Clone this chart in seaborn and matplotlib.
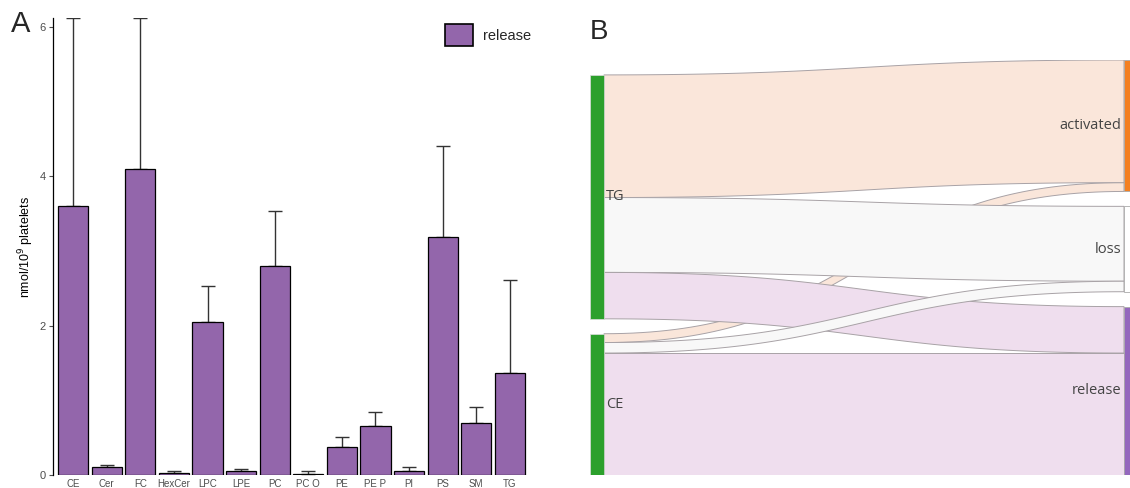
import numpy as np
import pandas as pd
import matplotlib.pyplot as plt
import seaborn as sns
from matplotlib.patches import Patch, Rectangle

# Estilo
sns.set_theme(style="ticks")
plt.rcParams['font.family'] = ['Liberation Sans', 'DejaVu Sans']

# Painel A: lipídios liberados (média e desvio)
lipidios = ['CE', 'Cer', 'FC', 'HexCer', 'LPC', 'LPE', 'PC', 'PC O', 'PE', 'PE P', 'PI', 'PS', 'SM', 'TG']
media = [3.60, 0.11, 4.10, 0.03, 2.05, 0.06, 2.80, 0.02, 0.38, 0.66, 0.05, 3.19, 0.69, 1.37]
desvio = [2.52, 0.03, 2.02, 0.02, 0.48, 0.02, 0.73, 0.03, 0.13, 0.19, 0.06, 1.21, 0.22, 1.24]

# Painel B: fluxos do sankey (ordem = ordem de desenho)
origem = ['CE', 'TG', 'TG', 'TG', 'CE', 'CE']
destino = ['activated', 'activated', 'loss', 'release', 'loss', 'release']
valor = [0.26, 3.62, 2.21, 1.37, 0.31, 3.60]
nos_esq = ['TG', 'CE']
nos_dir = ['activated', 'loss', 'release']

roxo = '#9366ab'
cores_no = {'TG': '#2ca02c', 'CE': '#2ca02c', 'activated': '#f47f20',
            'loss': '#ffffff', 'release': '#9467bd'}
cores_fluxo = {'activated': '#fae6da', 'loss': '#f8f8f8', 'release': '#efdeee'}

fig = plt.figure(figsize=(11.3, 4.88), dpi=100)
W, H = 1130, 488

# ---------------- Painel A ----------------
ax = fig.add_axes([53 / W, 1 - 475 / H, (530 - 53) / W, (475 - 18) / H])
df = pd.DataFrame({'lipidio': lipidios, 'media': media, 'desvio': desvio})
sns.barplot(data=df, x='lipidio', y='media', color=roxo, saturation=1,
            width=0.9, edgecolor='black', linewidth=0.9, ax=ax, zorder=3)
ax.errorbar(np.arange(len(lipidios)), df['media'],
            yerr=[np.zeros(len(lipidios)), df['desvio']],
            fmt='none', ecolor='#333333', elinewidth=1.0, capsize=5, capthick=1.0, zorder=2)
ax.set_xlim(-0.6, len(lipidios) - 0.4)
ax.set_ylim(0, 6.12)
ax.set_yticks([0, 2, 4, 6])
ax.set_xlabel('')
ax.set_ylabel('nmol/10$^9$ platelets', fontsize=9, labelpad=3)
ax.tick_params(axis='y', labelsize=8, colors='#4d4d4d', length=3, width=0.8, pad=2)
ax.tick_params(axis='x', labelsize=7, colors='#4d4d4d', length=0, pad=3)
ax.yaxis.label.set_color('black')
for s in ['top', 'right', 'bottom']:
    ax.spines[s].set_visible(False)
ax.spines['left'].set_color('black')
ax.spines['left'].set_linewidth(0.9)

leg = fig.legend(handles=[Patch(facecolor=roxo, edgecolor='black', linewidth=1.2, label='release')],
                 loc='upper left', bbox_to_anchor=(445 / W, 1 - 24 / H), bbox_transform=fig.transFigure,
                 frameon=False, fontsize=10.5, handlelength=1.92, handleheight=1.92,
                 handletextpad=0.7, borderpad=0, borderaxespad=0)

fig.text(11 / W, 1 - 24 / H, 'A', fontsize=21, va='center', ha='left')
fig.text(590 / W, 1 - 32 / H, 'B', fontsize=20, va='center', ha='left')

# ---------------- Painel B (sankey) ----------------
axs = fig.add_axes([590 / W, 1 - 475 / H, 548 / W, 415 / H])
axs.set_axis_off()
fl = pd.DataFrame({'origem': origem, 'destino': destino, 'valor': valor})
pad = 0.44
tot_esq = fl.groupby('origem')['valor'].sum().reindex(nos_esq)
tot_dir = fl.groupby('destino')['valor'].sum().reindex(nos_dir)
altura = tot_dir.sum() + pad * (len(nos_dir) - 1)
axs.set_xlim(0, 548)
axs.set_ylim(altura, 0)

# posições dos nós (de cima para baixo)
topo = {}
y = altura - (tot_esq.sum() + pad * (len(nos_esq) - 1))
for n in nos_esq:
    topo[n] = y
    y += tot_esq[n] + pad
y = 0
for n in nos_dir:
    topo[n] = y
    y += tot_dir[n] + pad

# posições das faixas dentro de cada nó
cur_src = dict(topo)
cur_dst = dict(topo)
faixas = {}
for s in nos_esq:
    for d in nos_dir:
        m = fl[(fl.origem == s) & (fl.destino == d)]
        if len(m):
            faixas[(s, d)] = [cur_src[s], None]
            cur_src[s] += m['valor'].iloc[0]
for d in nos_dir:
    for s in nos_esq:
        m = fl[(fl.origem == s) & (fl.destino == d)]
        if len(m):
            faixas[(s, d)][1] = cur_dst[d]
            cur_dst[d] += m['valor'].iloc[0]

nw = 14
x0, x1 = nw, 548 - nw
t = np.linspace(0, 1, 80)
xm = (x0 + x1) / 2
bx = (1 - t) ** 3 * x0 + 3 * (1 - t) ** 2 * t * xm + 3 * (1 - t) * t ** 2 * xm + t ** 3 * x1
def curva(ya, yb):
    return (1 - t) ** 3 * ya + 3 * (1 - t) ** 2 * t * ya + 3 * (1 - t) * t ** 2 * yb + t ** 3 * yb

for s, d, v in zip(origem, destino, valor):
    ya, yb = faixas[(s, d)]
    sup = curva(ya, yb)
    inf = curva(ya + v, yb + v)
    axs.fill(np.concatenate([bx, bx[::-1]]), np.concatenate([sup, inf[::-1]]),
             facecolor=cores_fluxo[d], edgecolor='#a8a2a6', linewidth=0.7, zorder=2)

for n in nos_esq:
    axs.add_patch(Rectangle((0, topo[n]), nw, tot_esq[n], facecolor=cores_no[n],
                            edgecolor='#dddddd', linewidth=0.5, zorder=3))
    axs.text(nw + 2, topo[n] + tot_esq[n] / 2, n, fontsize=10.5, color='#444444',
             family=['Open Sans', 'DejaVu Sans'], va='center', ha='left', zorder=4)
for n in nos_dir:
    axs.add_patch(Rectangle((x1, topo[n]), nw, tot_dir[n], facecolor=cores_no[n],
                            edgecolor='#aaaaaa', linewidth=0.6, zorder=3))
    axs.text(x1 - 3, topo[n] + tot_dir[n] / 2, n, fontsize=10.5, color='#444444',
             family=['Open Sans', 'DejaVu Sans'], va='center', ha='right', zorder=4)

fig.savefig('out.png', dpi=100)
